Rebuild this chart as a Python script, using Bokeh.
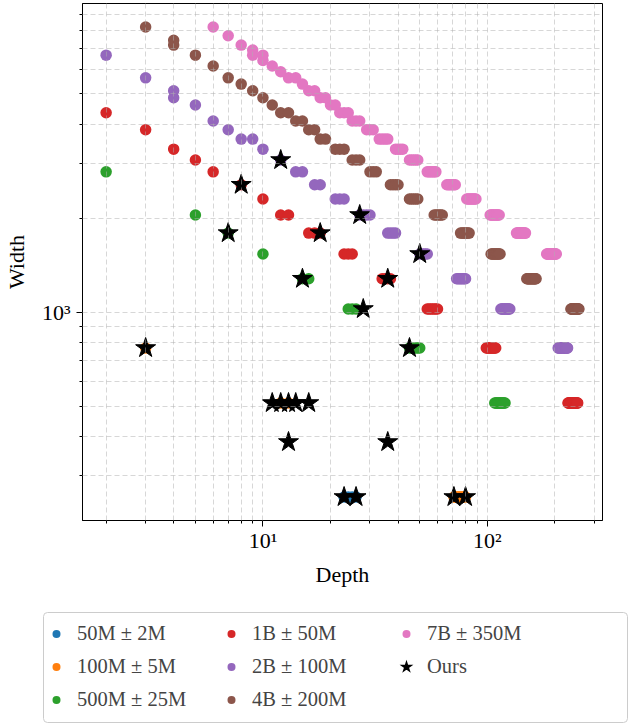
from bokeh.plotting import figure
from bokeh.models import Range1d, FixedTicker, Legend, LegendItem, BoxAnnotation
from bokeh.embed import file_html
from bokeh.resources import INLINE

FONT = "Liberation Serif"

# ---------------- data (depth, width) ----------------
blue_widths = [256]
blue_depths = [[23, 24, 25, 26]]

orange_widths = [256, 512, 768]
orange_depths = [[71, 72, 73, 74, 75, 76, 77, 78, 79, 80], [12, 13], [3]]

green_widths = [512, 768, 1024, 1280, 1536, 1792, 2048, 2816]
green_depths = [
    [108, 109, 110, 111, 112, 113, 114, 115, 116, 117, 118, 119, 120],
    [45, 46, 47, 48, 49, 50], [24, 25, 26], [15, 16], [10], [7], [5], [2]]

red_widths = [512, 768, 1024, 1280, 1536, 1792, 2048, 2304, 2560, 2816, 3072, 3328, 3840, 4352]
red_depths = [
    [229, 230, 231, 232, 233, 234, 235, 236, 237, 238, 239, 240, 241, 242, 243, 244, 245,
     246, 247, 248, 249, 250, 251, 252, 253],
    [99, 100, 101, 102, 103, 104, 105, 106, 107, 108, 109],
    [54, 55, 56, 57, 58, 59, 60], [34, 35, 36, 37], [23, 24, 25], [16, 17, 18],
    [12, 13], [10], [8], [6], [5], [4], [3], [2]]

purple_widths = [768, 1024, 1280, 1536, 1792, 2048, 2304, 2560, 2816, 3072, 3328, 3584,
                 3840, 4096, 4608, 4864, 5120, 5632, 6656]
purple_depths = [
    [207, 208, 209, 210, 211, 212, 213, 214, 215, 216, 217, 218, 219, 220, 221, 222, 223,
     224, 225, 226, 227, 228],
    [115, 116, 117, 118, 119, 120, 121, 122, 123, 124, 125, 126],
    [73, 74, 75, 76, 77, 78, 79, 80], [50, 51, 52, 53, 54], [36, 37, 38, 39],
    [27, 28, 29, 30], [21, 22, 23], [17, 18], [14, 15], [12], [10], [8, 9], [7], [6],
    [5], [4], [4], [3], [2]]

brown_widths = [1024, 1280, 1536, 1792, 2048, 2304, 2560, 2816, 3072, 3328, 3584, 3840,
                4096, 4352, 4608, 4864, 5120, 5376, 5632, 6144, 6656, 7168, 7424, 8192]
brown_depths = [
    [236, 237, 238, 239, 240, 241, 242, 243, 244, 245, 246, 247, 248, 249, 250, 251, 252,
     253, 254, 255, 256],
    [150, 151, 152, 153, 154, 155, 156, 157, 158, 159, 160, 161, 162, 163, 164, 165],
    [104, 105, 106, 107, 108, 109, 110, 111, 112, 113, 114],
    [76, 77, 78, 79, 80, 81, 82, 83], [58, 59, 60, 61, 62, 63], [45, 46, 47, 48, 49],
    [37, 38, 39, 40], [30, 31, 32], [25, 26, 27], [21, 22, 23], [18, 19], [16, 17],
    [14, 15], [12, 13], [11], [10], [9], [8], [7], [6], [5], [4], [4], [3]]

pink_widths = [1536, 1792, 2048, 2304, 2560, 2816, 3072, 3328, 3584, 3840, 4096, 4352,
               4608, 4864, 5120, 5376, 5632, 5888, 6144, 6400, 6656, 6912, 7168, 7680, 8192]
pink_depths = [
    [184, 185, 186, 187, 188, 189, 190, 191, 192, 193, 194, 195, 196, 197, 198, 199, 200,
     201, 202, 203],
    [135, 136, 137, 138, 139, 140, 141, 142, 143, 144, 145, 146, 147, 148],
    [103, 104, 105, 106, 107, 108, 109, 110, 111, 112, 113],
    [81, 82, 83, 84, 85, 86, 87, 88, 89], [66, 67, 68, 69, 70, 71, 72],
    [54, 55, 56, 57, 58, 59], [45, 46, 47, 48, 49], [39, 40, 41, 42], [33, 34, 35, 36],
    [29, 30, 31], [25, 26, 27], [22, 23, 24], [20, 21], [18, 19], [16, 17], [15],
    [13, 14], [12], [11], [10], [9, 10], [9], [8], [7], [6]]

ours_depth = [3, 7, 8, 12, 18, 27, 15, 36, 28, 50, 45, 11, 12, 13, 14, 16, 13, 36, 23, 26, 71, 80]
ours_width = [768, 1792, 2560, 3072, 1792, 2048, 1280, 1280, 1024, 1536, 768, 512, 512, 512,
              512, 512, 384, 384, 256, 256, 256, 256]

series_labels = ["50M ± 2M", "100M ± 5M", "500M ± 25M", "1B ± 50M", "2B ± 100M",
                 "4B ± 200M", "7B ± 350M"]
series_colors = ["#1f77b4", "#ff7f0e", "#2ca02c", "#d62728", "#9467bd", "#8c564b", "#e377c2"]
series_data = [(blue_widths, blue_depths), (orange_widths, orange_depths),
               (green_widths, green_depths), (red_widths, red_depths),
               (purple_widths, purple_depths), (brown_widths, brown_depths),
               (pink_widths, pink_depths)]

x_major = [10, 100]
x_minor = [2, 3, 4, 5, 6, 7, 8, 9, 20, 30, 40, 50, 60, 70, 80, 90, 200, 300]
y_major = [1000]
y_minor = [300, 400, 500, 600, 700, 800, 900, 2000, 3000, 4000, 5000, 6000, 7000, 8000, 9000]


def flatten(widths, depths):
    xs, ys = [], []
    for w, ds in zip(widths, depths):
        for d in ds:
            xs.append(d)
            ys.append(w)
    return xs, ys


# axis limits: data extent with 5% (log) margins, as matplotlib autoscale
all_x = list(ours_depth)
all_y = list(ours_width)
for w, d in series_data:
    xs, ys = flatten(w, d)
    all_x += xs
    all_y += ys
xlo, xhi = min(all_x), max(all_x)
ylo, yhi = min(all_y), max(all_y)
mx = (xhi / xlo) ** 0.05
my = (yhi / ylo) ** 0.05

p = figure(frame_width=520, frame_height=517, x_axis_type="log", y_axis_type="log",
           x_range=Range1d(xlo / mx, xhi * mx), y_range=Range1d(ylo / my, yhi * my),
           output_backend="svg", toolbar_location=None,
           min_border_left=80, min_border_right=8, min_border_top=3, min_border_bottom=86,
           background_fill_color="white", border_fill_color="white")
p.outline_line_color = "black"
p.outline_line_width = 1

renderers = []
for (w, d), c in zip(series_data, series_colors):
    xs, ys = flatten(w, d)
    r = p.scatter(xs, ys, size=11.5, marker="circle", fill_color=c, line_color=c, line_width=0)
    renderers.append(r)

r_ours = p.scatter(ours_depth, ours_width, size=21, marker="star",
                   fill_color="black", line_color="black", line_width=1)

# axes
p.xaxis.ticker = FixedTicker(ticks=x_major, minor_ticks=x_minor)
p.yaxis.ticker = FixedTicker(ticks=y_major, minor_ticks=y_minor)
p.xaxis.major_label_overrides = {10: "10¹", 100: "10²"}
p.yaxis.major_label_overrides = {1000: "10³"}
p.xaxis.axis_label = "Depth"
p.yaxis.axis_label = "Width"
for ax in (p.xaxis, p.yaxis):
    ax.axis_label_text_font = FONT
    ax.axis_label_text_font_size = "22px"
    ax.axis_label_text_font_style = "normal"
    ax.axis_label_text_color = "black"
    ax.major_label_text_font = FONT
    ax.major_label_text_font_size = "22px"
    ax.major_label_text_color = "black"
    ax.axis_line_color = "black"
    ax.major_tick_line_color = "black"
    ax.minor_tick_line_color = "black"
    ax.major_tick_out = 6
    ax.major_tick_in = 0
    ax.minor_tick_out = 3
    ax.minor_tick_in = 0
p.xaxis.major_label_standoff = 1
p.yaxis.major_label_standoff = 6
p.xaxis.axis_label_standoff = 6
p.yaxis.axis_label_standoff = 10

# grid (dashed, major + minor, drawn over markers like the reference)
for g in (p.xgrid, p.ygrid):
    g.grid_line_color = "#b0b0b0"
    g.grid_line_alpha = 0.5
    g.grid_line_dash = "5 3"
    g.minor_grid_line_color = "#b0b0b0"
    g.minor_grid_line_alpha = 0.5
    g.minor_grid_line_dash = "5 3"
    g.level = "overlay"
p.xgrid.ticker = FixedTicker(ticks=x_major, minor_ticks=x_minor)
p.ygrid.ticker = FixedTicker(ticks=y_major, minor_ticks=y_minor)

# ---------------- legend strip (separate root under the plot) ----------------
# its renderers hold the same data but the strip's range lies beyond every depth,
# so only the legend itself is visible there
leg = figure(width=628, height=118, x_range=Range1d(1000, 1001), y_range=Range1d(0, 1),
             output_backend="svg", toolbar_location=None,
             x_axis_location=None, y_axis_location=None,
             min_border_left=0, min_border_right=0, min_border_top=0, min_border_bottom=0,
             background_fill_color="white", border_fill_color="white")
leg.outline_line_color = None
leg.xgrid.visible = False
leg.ygrid.visible = False

# legend frame (rounded, light grey), spanning the strip like the reference
leg.add_layout(BoxAnnotation(left=43, right=627, bottom=2, top=112,
                             left_units="screen", right_units="screen",
                             top_units="screen", bottom_units="screen",
                             fill_color="white", fill_alpha=1.0,
                             line_color="#cccccc", line_width=1, line_alpha=1.0,
                             border_radius=4))

leg_renderers = []
for (w, d), c in zip(series_data, series_colors):
    xs, ys = flatten(w, d)
    leg_renderers.append(leg.scatter(xs, ys, size=11.5, marker="circle", fill_color=c,
                                     line_color=c, line_width=0))
leg_ours = leg.scatter(ours_depth, ours_width, size=21, marker="star",
                       fill_color="black", line_color="black", line_width=2,
                       line_join="miter")

items = [LegendItem(label=lab, renderers=[r]) for lab, r in zip(series_labels, leg_renderers)]
items.append(LegendItem(label="Ours", renderers=[leg_ours]))
legend = Legend(items=items, nrows=3, orientation="vertical", location=(46, 11),
                label_text_font=FONT, label_text_font_size="20.5px",
                glyph_width=20, glyph_height=27, label_standoff=11, label_width=138,
                spacing=6, padding=6, margin=0,
                border_line_color=None, background_fill_alpha=0.0)
leg.add_layout(legend, "center")

open("out.html", "w").write(file_html([p, leg], INLINE))
